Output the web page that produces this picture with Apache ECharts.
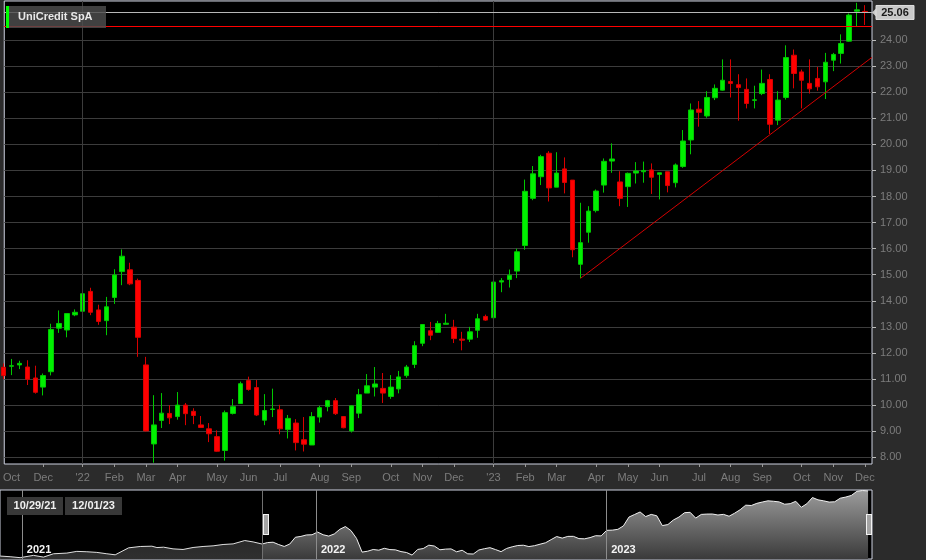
<!DOCTYPE html>
<html><head><meta charset="utf-8">
<script src="https://cdn.jsdelivr.net/npm/echarts@6/dist/echarts.min.js"></script>
<style>html,body{margin:0;padding:0;background:#2b2b2b;}#c{width:926px;height:560px;}</style>
</head><body><div id="c"></div>
<script>
// ---- data (weekly candles, index 0 = week of 2021-10-25) ----
const opens  = [11.45,11.49,11.54,11.46,11.04,10.69,11.28,12.95,12.88,13.46,13.60,14.36,13.65,13.24,14.13,15.12,15.19,14.78,11.54,8.51,9.41,9.68,9.56,10.00,9.76,9.24,9.09,8.79,8.26,9.68,10.06,10.94,10.67,9.42,9.83,9.82,9.06,9.31,8.67,8.47,9.54,9.94,10.17,9.56,9.01,9.69,10.46,10.69,10.64,10.33,10.62,11.13,11.56,12.37,12.85,12.79,13.10,12.99,12.53,12.53,12.87,13.40,13.35,14.72,14.82,15.14,16.12,17.93,18.76,19.66,18.36,19.06,18.63,15.40,16.63,17.46,18.44,19.36,18.56,18.38,18.90,18.95,19.02,18.85,18.95,18.53,19.15,20.17,21.35,21.09,21.79,22.08,22.41,22.29,22.11,21.69,21.95,22.49,20.93,21.80,23.42,22.78,22.34,22.53,22.40,23.23,23.49,23.96,25.11,25.10];
const closes = [11.13,11.51,11.60,10.99,10.49,11.13,12.90,13.13,13.51,13.56,14.27,13.56,13.21,13.77,14.99,15.71,14.65,12.60,9.01,9.24,9.69,9.51,10.00,9.67,9.60,9.14,8.90,8.23,9.71,9.94,10.82,10.60,9.62,9.79,9.85,9.09,9.49,8.56,8.50,9.56,9.90,10.17,9.67,9.13,9.97,10.40,10.74,10.81,10.46,10.69,11.08,11.46,12.28,13.09,12.68,13.13,13.14,12.55,12.49,12.81,13.31,13.26,14.72,14.77,14.98,15.88,18.20,18.87,19.53,18.33,18.90,18.54,15.96,16.23,17.44,18.21,19.35,19.44,17.93,18.89,18.98,19.00,18.74,18.91,18.42,19.21,20.13,21.32,21.23,21.80,22.15,22.46,22.34,22.18,21.57,21.71,22.34,20.77,21.70,23.33,22.72,22.46,22.13,22.21,23.15,23.45,23.87,24.96,25.16,25.06];
const lows   = [11.00,11.15,11.38,10.77,10.44,10.37,11.14,12.77,12.60,13.41,13.49,13.45,13.08,12.68,13.88,14.60,14.60,11.85,8.99,7.79,9.12,9.27,9.44,9.23,9.27,9.12,8.58,8.21,7.87,9.64,10.05,10.55,9.58,9.23,9.54,8.88,8.72,8.26,8.22,8.47,9.33,9.76,9.62,9.11,8.95,9.50,10.46,10.33,10.08,10.24,10.45,11.05,11.42,12.26,12.49,12.77,13.10,12.38,12.10,12.42,12.58,13.23,13.35,14.33,14.51,14.87,15.96,17.86,18.44,17.81,18.36,18.12,15.67,14.87,16.23,17.39,18.15,18.91,17.63,17.60,18.50,18.53,18.10,17.89,18.16,18.35,19.10,19.62,20.68,21.02,21.70,22.06,21.80,20.91,21.38,21.38,21.89,20.40,20.74,21.72,22.15,21.38,21.95,22.06,21.74,22.81,23.10,23.94,24.51,24.58];
const highs  = [11.60,11.77,11.70,11.72,11.51,11.21,13.12,13.63,13.51,13.67,14.46,14.50,13.85,14.15,15.21,15.97,15.46,14.85,11.85,10.38,10.46,10.00,10.50,10.08,9.88,9.58,9.31,9.03,9.79,10.23,10.90,11.09,10.96,10.42,10.63,10.01,9.62,9.46,9.54,9.73,9.97,10.20,10.27,9.58,9.99,10.62,11.19,11.46,11.23,11.15,11.31,11.54,12.45,13.10,13.19,13.23,13.50,13.27,12.81,13.00,13.50,13.47,14.80,14.87,15.20,16.00,18.65,19.17,19.60,19.74,19.70,19.50,18.63,17.76,17.63,18.27,19.46,20.04,18.97,18.92,19.32,19.34,19.27,18.91,18.95,19.27,20.55,21.57,21.66,22.04,22.30,23.26,23.26,22.69,22.53,22.25,22.87,22.69,22.04,23.80,23.64,22.87,23.26,22.97,23.51,23.51,24.22,25.02,25.43,25.34];

const xLabelWeeks = [1,5,10,14,18,22,27,31,35,40,44,49,53,57,62,66,70,75,79,83,88,92,96,101,105,109];
const xLabelTexts = ['Oct','Dec',"'22",'Feb','Mar','Apr','May','Jun','Jul','Aug','Sep','Oct','Nov','Dec',"'23",'Feb','Mar','Apr','May','Jun','Jul','Aug','Sep','Oct','Nov','Dec'];
const xTickWeeks = [5,10,14,18,22,27,31,35,40,44,49,53,57,62,66,70,75,79,83,88,92,96,101,105,109];
const yTickValues = [8,9,10,11,12,13,14,15,16,17,18,19,20,21,22,23,24];
const yearLineWeeks = [10, 62];
const trendStart = [73.0, 14.86];
const trendEnd = [109.9, 23.34];
const resistanceLevel = 24.55;

// navigator: earlier history (week offsets before index 0) and values
const navPreWeeks  = [-47.1,-45.3,-43.5,-41.1,-39.3,-37.5,-35.1,-33.3,-31.5,-29.7,-27.9,-26.4,-24.0,-21.9,-19.8,-18.9,-17.7,-16.0,-14.2,-12.4,-10.6,-8.8,-7.0,-5.2,-3.1,-1.6];
const navPreValues = [7.97,7.80,7.55,8.15,7.70,8.57,8.75,9.20,9.10,8.93,8.57,8.30,10.12,10.48,10.56,10.20,10.30,9.86,9.70,10.22,10.48,10.65,11.00,11.16,12.04,11.68];
const navYearWeeks  = [-43.2, 9.7, 61.9];
const navYearLabels = ['2021','2022','2023'];

const titleText = 'UniCredit SpA';
const rangeStartText = '10/29/21';
const rangeEndText = '12/01/23';

// ---- chart ----
const FONT = 'Arial, "Liberation Sans", sans-serif';
const labelMap = {};
xLabelWeeks.forEach((w, i) => { labelMap[w] = xLabelTexts[i]; });
const candleData = opens.map((o, i) => [i, o, closes[i], lows[i], highs[i]]);
const lastIdx = closes.length - 1;
const lastClose = closes[lastIdx];

const chart = echarts.init(document.getElementById('c'), null, {renderer: 'canvas'});

const option = {
  backgroundColor: '#2b2b2b',
  animation: false,
  grid: [
    {left: 0, top: 1, width: 872, height: 463, show: true, backgroundColor: '#000', borderColor: '#cdd1e0', borderWidth: 1},
    {left: 0, top: 490, width: 872, height: 69, show: true, backgroundColor: '#000', borderColor: '#cdd1e0', borderWidth: 1}
  ],
  xAxis: [
    {type: 'value', gridIndex: 0, min: 0.076, max: 109.9, position: 'bottom',
     axisLine: {show: false},
     axisTick: {show: true, customValues: xTickWeeks, length: 3, lineStyle: {color: '#9a9a9a'}},
     axisLabel: {customValues: xLabelWeeks, formatter: v => labelMap[v] || '', color: '#7c7c7c', fontSize: 11, margin: 8, fontFamily: FONT},
     splitLine: {show: false}},
    {type: 'value', gridIndex: 1, min: -47.12, max: 109.71, show: false}
  ],
  yAxis: [
    {type: 'value', gridIndex: 0, position: 'right', min: 7.74, max: 25.5,
     axisLine: {show: false},
     axisTick: {show: true, customValues: yTickValues, length: 4, lineStyle: {color: '#bdbdbd'}},
     axisLabel: {customValues: yTickValues, formatter: v => Number(v).toFixed(2), color: '#7c7c7c', fontSize: 11, margin: 8, fontFamily: FONT},
     splitLine: {show: true, lineStyle: {color: '#3c3c3c', width: 1}}},
    {type: 'value', gridIndex: 1, min: 7.2, max: 25.3, show: false}
  ],
  series: [
    {type: 'line', xAxisIndex: 0, yAxisIndex: 0, data: [], z: 1, silent: true,
     markLine: {silent: true, symbol: ['none', 'none'], label: {show: false}, animation: false,
       lineStyle: {color: '#3c3c3c', width: 1, type: 'solid'},
       data: yearLineWeeks.map(w => ({xAxis: w}))}},
    {type: 'candlestick', xAxisIndex: 0, yAxisIndex: 0, data: candleData, barWidth: 5, clip: true, z: 3,
     itemStyle: {color: '#00f000', color0: '#ff0000', borderColor: '#00c800', borderColor0: '#d80000', borderWidth: 1},
     markLine: {silent: true, symbol: ['none', 'none'], label: {show: false}, animation: false,
       data: [
         {yAxis: lastClose, lineStyle: {color: '#b8b8b8', width: 1, type: 'solid'}},
         {yAxis: resistanceLevel, lineStyle: {color: '#ff0000', width: 1, type: 'solid'}},
         [{coord: trendStart, lineStyle: {color: '#d40000', width: 1, type: 'solid'}}, {coord: trendEnd}]
       ]}},
    {type: 'line', xAxisIndex: 1, yAxisIndex: 1, symbol: 'none', silent: true,
     data: navPreWeeks.map((w, i) => [w, navPreValues[i]]).concat([[0, closes[0]]]),
     lineStyle: {color: '#e0e0e0', width: 1},
     areaStyle: {opacity: 1, color: {type: 'linear', x: 0, y: 490, x2: 0, y2: 560, global: true,
       colorStops: [{offset: 0, color: '#1a1a1a'}, {offset: 1, color: '#303030'}]}}},
    {type: 'line', xAxisIndex: 1, yAxisIndex: 1, symbol: 'none', silent: true,
     data: closes.map((c, i) => [i, c]),
     lineStyle: {color: '#f0f0f0', width: 1},
     areaStyle: {opacity: 1, color: {type: 'linear', x: 0, y: 490, x2: 0, y2: 560, global: true,
       colorStops: [{offset: 0, color: '#9c9c9c'}, {offset: 1, color: '#393939'}]}},
     markLine: {silent: true, symbol: ['none', 'none'], label: {show: false}, animation: false,
       data: navYearWeeks.map(w => ({xAxis: w, lineStyle: {color: '#8c8c8c', width: 1, type: 'solid'}}))
         .concat([{xAxis: 0, lineStyle: {color: '#707070', width: 1, type: 'solid'}}])}}
  ]
};
chart.setOption(option);

// ---- overlay decorations positioned from the axes ----
const tagY = chart.convertToPixel({yAxisIndex: 0}, lastClose);
const navX0 = chart.convertToPixel({xAxisIndex: 1}, 0);
const navX1 = chart.convertToPixel({xAxisIndex: 1}, lastIdx);
const gfx = [];
// title box
gfx.push({type: 'rect', shape: {x: 6, y: 6, width: 100, height: 22}, style: {fill: 'rgba(78,78,78,0.82)'}, z: 100});
gfx.push({type: 'rect', shape: {x: 6, y: 6, width: 3, height: 22}, style: {fill: '#00ff00'}, z: 101});
gfx.push({type: 'text', x: 18, y: 17, style: {text: titleText, fill: '#e8e8e8', font: 'bold 11px ' + FONT, verticalAlign: 'middle'}, z: 101});
// price tag
gfx.push({type: 'polygon', shape: {points: [[872, tagY], [877, tagY - 5], [877, tagY + 5]]}, style: {fill: '#c9c9c9'}, z: 100});
gfx.push({type: 'rect', shape: {x: 876, y: tagY - 7, width: 38, height: 14}, style: {fill: '#c9c9c9', stroke: '#e0e0e0', lineWidth: 1}, z: 100});
gfx.push({type: 'text', x: 895, y: tagY, style: {text: lastClose.toFixed(2), fill: '#1a1a1a', font: 'bold 11px ' + FONT, align: 'center', verticalAlign: 'middle'}, z: 101});
// date range boxes
gfx.push({type: 'rect', shape: {x: 7, y: 497, width: 56, height: 18}, style: {fill: '#383838'}, z: 100});
gfx.push({type: 'text', x: 35, y: 506, style: {text: rangeStartText, fill: '#f0f0f0', font: 'bold 11px ' + FONT, align: 'center', verticalAlign: 'middle'}, z: 101});
gfx.push({type: 'rect', shape: {x: 65, y: 497, width: 57, height: 18}, style: {fill: '#383838'}, z: 100});
gfx.push({type: 'text', x: 93.5, y: 506, style: {text: rangeEndText, fill: '#f0f0f0', font: 'bold 11px ' + FONT, align: 'center', verticalAlign: 'middle'}, z: 101});
// year labels in navigator
navYearWeeks.forEach((w, i) => {
  const px = chart.convertToPixel({xAxisIndex: 1}, w);
  gfx.push({type: 'text', x: px + 5, y: 550, style: {text: navYearLabels[i], fill: '#f4f4f4', font: 'bold 11px ' + FONT, verticalAlign: 'middle'}, z: 101});
});
// handles
function handle(x) {
  gfx.push({type: 'rect', shape: {x: x, y: 514, width: 6, height: 21}, style: {fill: '#f4f4f4'}, z: 102});
  gfx.push({type: 'rect', shape: {x: x + 1.5, y: 515, width: 1, height: 19}, style: {fill: '#555'}, z: 103});
  gfx.push({type: 'rect', shape: {x: x + 3.5, y: 515, width: 1, height: 19}, style: {fill: '#555'}, z: 103});
}
handle(Math.round(navX0) + 1);
handle(Math.round(navX1) - 2);
chart.setOption({graphic: gfx});
</script>
</body></html>
